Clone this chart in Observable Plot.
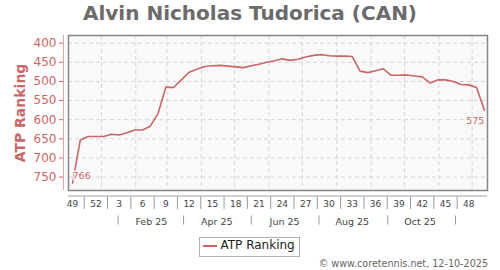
<!DOCTYPE html>
<html><head><meta charset="utf-8">
<script src="https://cdn.jsdelivr.net/npm/d3@7"></script>
<script src="https://cdn.jsdelivr.net/npm/@observablehq/plot@0.6"></script>
<style>
html,body{margin:0;padding:0;background:#fff;}
#wrap{position:relative;width:500px;height:270px;font-family:"DejaVu Sans",sans-serif;overflow:hidden;background:#fff;}
#wrap svg{position:absolute;left:0;top:0;}
#title{position:absolute;left:0;top:2.5px;width:500px;text-align:center;font-weight:bold;font-size:20px;line-height:20px;color:#6b6b6b;white-space:nowrap;}
#legend{position:absolute;left:199px;top:236.5px;width:101px;height:20px;box-sizing:border-box;border:1px solid #b0b0b0;background:#fff;}
#legline{position:absolute;left:202.5px;top:245px;width:14px;height:2px;}
#legtext{position:absolute;left:220.5px;top:238.6px;font-size:12px;line-height:12px;color:#222;white-space:nowrap;}
#footer{position:absolute;right:12px;top:259.3px;font-size:9.6px;line-height:10px;color:#666;white-space:nowrap;}
</style></head>
<body><div id="wrap"></div>
<script>
const titleText = "Alvin Nicholas Tudorica (CAN)";
const seriesName = "ATP Ranking";
const footerText = "\u00a9 www.coretennis.net, 12-10-2025";
const RED = "#cc6666";

// weekly ranking points
const rankDates = [
  "2024-12-06","2024-12-13","2024-12-20","2024-12-27",
  "2025-01-03","2025-01-10","2025-01-17","2025-01-24","2025-01-31",
  "2025-02-07","2025-02-14","2025-02-21","2025-02-28",
  "2025-03-07","2025-03-14","2025-03-21","2025-03-28",
  "2025-04-04","2025-04-11","2025-04-18","2025-04-25",
  "2025-05-02","2025-05-09","2025-05-16","2025-05-23","2025-05-30",
  "2025-06-06","2025-06-13","2025-06-20","2025-06-27",
  "2025-07-04","2025-07-11","2025-07-18","2025-07-25",
  "2025-08-01","2025-08-08","2025-08-15","2025-08-22","2025-08-29",
  "2025-09-05","2025-09-12","2025-09-19","2025-09-26",
  "2025-10-03","2025-10-10","2025-10-17","2025-10-24","2025-10-31",
  "2025-11-07","2025-11-14","2025-11-21","2025-11-28",
  "2025-12-05","2025-12-12"
];
const ranks = [
  766, 653, 644, 644,
  644, 638, 640, 634, 627,
  627, 617, 584, 515,
  516, 496, 476, 468,
  461, 459, 458, 460,
  462, 464, 459, 455, 450,
  446, 441, 445, 442,
  436, 432, 430, 433,
  434, 434, 435, 473, 477,
  472, 467, 484, 484,
  483, 486, 488, 504, 496,
  496, 500, 508, 509,
  516, 575
];

// axes
const yTicks = [400, 450, 500, 550, 600, 650, 700, 750];
const yDomain = [380, 785];
const xDomain = ["2024-12-02T08:00Z", "2025-12-14T20:00Z"];
const weekLabels = ["49","52","3","6","9","12","15","18","21","24","27","30","33","36","39","42","45","48"];
const weekLabelDates = ["2024-12-06","2024-12-27","2025-01-17","2025-02-07","2025-02-28","2025-03-21","2025-04-11","2025-05-02","2025-05-23","2025-06-13","2025-07-04","2025-07-25","2025-08-15","2025-09-05","2025-09-26","2025-10-17","2025-11-07","2025-11-28"];
const monthLabels = ["Feb 25","Apr 25","Jun 25","Aug 25","Oct 25"];
const monthLabelDates = ["2025-02-15","2025-04-15","2025-06-15","2025-08-15","2025-10-15"];
const monthSepDates = ["2025-01-16","2025-03-16","2025-05-16","2025-07-16","2025-09-16","2025-11-16"];
const gridMonthDates = ["2025-01-01","2025-02-01","2025-03-01","2025-04-01","2025-05-01","2025-06-01","2025-07-01","2025-08-01","2025-09-01","2025-10-01","2025-11-01","2025-12-01"];

const D = s => new Date(s);
const data = rankDates.map((d, i) => ({date: D(d), rank: ranks[i]}));
const wkDates = weekLabelDates.map(D);
const wkMap = new Map(wkDates.map((d, i) => [+d, weekLabels[i]]));
const wkSeps = wkDates.slice(1).map((d, i) => new Date((+d + +wkDates[i]) / 2));
const moDates = monthLabelDates.map(D);
const moMap = new Map(moDates.map((d, i) => [+d, monthLabels[i]]));

const chart = Plot.plot({
  width: 500, height: 270,
  marginLeft: 68, marginRight: 13, marginTop: 35, marginBottom: 80,
  style: {fontFamily: "DejaVu Sans, sans-serif", background: "transparent", color: "#444"},
  x: {type: "utc", domain: xDomain.map(D)},
  y: {domain: yDomain, reverse: true},
  marks: [
    Plot.frame({fill: "#f9f9f9"}),
    Plot.gridY({ticks: yTicks, stroke: "#d4d4d4", strokeOpacity: 1, strokeDasharray: "4,3"}),
    Plot.gridX({ticks: gridMonthDates.map(D), stroke: "#d4d4d4", strokeOpacity: 1, strokeDasharray: "4,3"}),
    Plot.frame({stroke: "#858585", strokeWidth: 1.5}),
    Plot.line(data, {x: "date", y: "rank", stroke: RED, strokeWidth: 1.6}),
    Plot.text([data[0]], {x: "date", y: "rank", text: d => String(d.rank), textAnchor: "start", lineAnchor: "bottom", dy: -4, fill: RED, stroke: "#f9f9f9", strokeWidth: 3, fontSize: 9.5}),
    Plot.text([data[data.length - 1]], {x: "date", y: "rank", text: d => String(d.rank), textAnchor: "end", lineAnchor: "top", dy: 6.8, fill: RED, stroke: "#f9f9f9", strokeWidth: 3, fontSize: 9.5}),
    // y axis
    Plot.ruleX([D(xDomain[0])], {dx: -5, stroke: "#e3a6a6"}),
    Plot.axisY({ticks: yTicks, tickSize: 4, tickPadding: 3, dx: -5, fontSize: 12, color: RED, label: null}),
    Plot.text([seriesName], {text: d => d, frameAnchor: "left", textAnchor: "middle", lineAnchor: "middle", rotate: -90, dx: -47.5, fontSize: 14, fontWeight: "bold", fill: RED}),
    // x axis
    Plot.ruleY([yDomain[1]], {dy: 5.5, stroke: "#a0a0a0"}),
    Plot.axisX({ticks: wkSeps, tickSize: 12.5, dy: 6.5, tickFormat: () => "", stroke: "#999", label: null}),
    Plot.axisX({ticks: wkDates, tickSize: 0, tickPadding: 10.6, tickFormat: d => wkMap.get(+d), fontSize: 9, fill: "#444", label: null}),
    Plot.axisX({ticks: monthSepDates.map(D), tickSize: 9, dy: 25.5, tickFormat: () => "", stroke: "#999", label: null}),
    Plot.axisX({ticks: moDates, tickSize: 0, tickPadding: 27.3, tickFormat: d => moMap.get(+d), fontSize: 9.5, fill: "#444", label: null})
  ]
});

const wrap = document.getElementById("wrap");
wrap.appendChild(chart);
const mk = (id, txt) => { const e = document.createElement("div"); e.id = id; if (txt) e.textContent = txt; wrap.appendChild(e); return e; };
mk("title", titleText);
mk("legend");
mk("legline").style.background = RED;
mk("legtext", seriesName);
mk("footer", footerText);
</script>
</body></html>
